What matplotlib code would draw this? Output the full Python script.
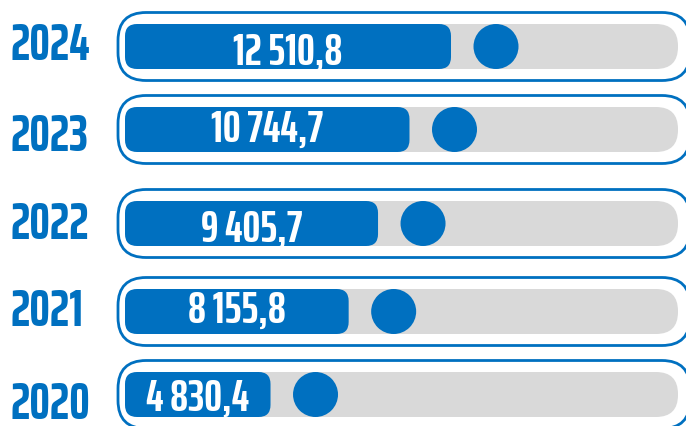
import matplotlib.pyplot as plt
from matplotlib.patches import FancyBboxPatch, Circle

# data
years = ['2024', '2023', '2022', '2021', '2020']
values = [12510.8, 10744.7, 9405.7, 8155.8, 4830.4]
labels = ['12 510,8', '10 744,7', '9 405,7', '8 155,8', '4 830,4']

# layout (pixels)
row_y = [47.5, 130.5, 224.5, 312.5, 395.5]
year_dy = [-5, 3, -3, -4.5, 6]
label_dy = [2, -4.5, 1.5, -5.5, 0]

blue = '#0070C0'
grey = '#D9D9D9'
font = ['Saira ExtraCondensed', 'DejaVu Sans']

fig = plt.figure(figsize=(6.86, 4.27), dpi=100)
ax = fig.add_axes([0, 0, 1, 1])
ax.set_xlim(0, 686)
ax.set_ylim(427, 0)
ax.axis('off')

x0 = 125
# linear scale value -> bar length in pixels
def bar_len(v):
    return 32 + 0.0235 * v

for yr, v, lab, yc, dy, ldy in zip(years, values, labels, row_y, year_dy, label_dy):
    # outer frame
    ax.add_patch(FancyBboxPatch((118, yc - 34), 572, 68,
                                boxstyle='round,pad=0,rounding_size=28',
                                fc='white', ec=blue, lw=2))
    # grey track
    ax.add_patch(FancyBboxPatch((x0, yc - 22.5), 553, 45,
                                boxstyle='round,pad=0,rounding_size=22',
                                fc=grey, ec='none'))
    w = bar_len(v)
    ax.add_patch(FancyBboxPatch((x0, yc - 22.5), w, 45,
                                boxstyle='round,pad=0,rounding_size=12',
                                fc=blue, ec='none'))
    ax.add_patch(Circle((x0 + w + 45, yc), 22.5, fc=blue, ec='none'))
    ax.text(x0 + w / 2, yc + ldy + 15.5, lab, color='white', fontsize=32,
            fontweight='bold', family=font, ha='center', va='baseline')
    ax.text(11, yc + dy + 18, yr, color=blue, fontsize=37,
            fontweight='bold', family=font, ha='left', va='baseline')

fig.savefig('out.png', dpi=100)
